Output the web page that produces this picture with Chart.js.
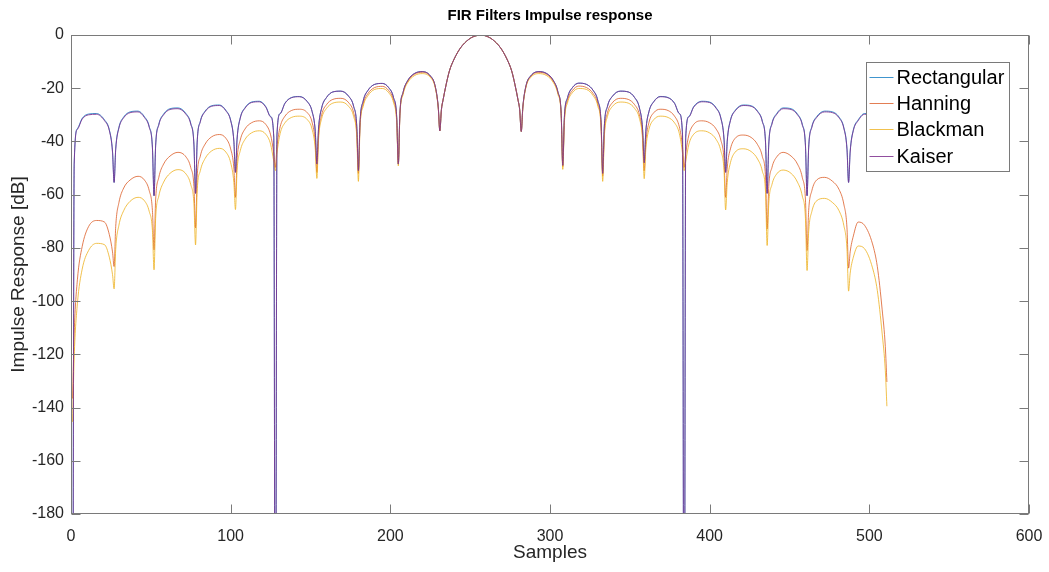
<!DOCTYPE html>
<html>
<head>
<meta charset="utf-8">
<title>FIR Filters Impulse response</title>
<script src="https://cdn.jsdelivr.net/npm/chart.js@4.4.1/dist/chart.umd.min.js"></script>
<style>
    html, body { margin: 0; padding: 0; background: #ffffff; }
    #wrap { width: 1049px; height: 572px; }
</style>
</head>
<body>
<div id="wrap"><canvas id="firChart" width="1049" height="572"></canvas></div>
<script>
// sample index (x) shared by all four filters
var samples = [
    1, 2, 4, 7, 11, 16, 21, 24, 26,
    27, 28, 30, 33, 37, 42, 46, 49, 51,
    52, 53, 55, 58, 62, 67, 72, 75, 77,
    78, 79, 81, 84, 88, 93, 97, 100, 102,
    103, 104, 106, 109, 113, 118, 122, 125, 127,
    128, 129, 131, 134, 138, 143, 148, 151, 153,
    154, 155, 157, 160, 164, 169, 174, 177, 179,
    180, 181, 183, 186, 190, 195, 199, 202, 204,
    205, 206, 208, 211, 215, 220, 225, 228, 230,
    231, 232, 233, 235, 237, 240, 244, 249, 253, 257, 260, 264, 269, 273, 276, 278, 280, 281,
    282, 283, 285, 288, 293, 298, 302, 305, 307,
    308, 309, 311, 314, 318, 323, 327, 330, 332,
    333, 334, 336, 339, 344, 349, 353, 356, 358,
    359, 360, 362, 365, 369, 374, 378, 381, 383,
    384, 385, 387, 390, 395, 400, 404, 407, 409,
    410, 411, 413, 416, 421, 426, 430, 433, 435,
    436, 437, 439, 442, 446, 451, 455, 458, 460,
    461, 462, 464, 467, 472, 477, 481, 484, 486,
    487, 488, 490, 493, 497, 502, 505, 508, 510, 511
];

var rectangular = [
    -300, -48.2, -35.2, -31.3, -29.7, -29.5, -31.9, -35.6, -43.7,
    -55.4, -42.7, -34.7, -30.8, -28.9, -28.6, -30.7, -34.4, -42.2,
    -60.4, -41.5, -33.5, -29.7, -27.7, -27.4, -29.5, -33.2, -41.1,
    -59.5, -40.4, -32.4, -28.6, -26.6, -26.3, -28.3, -32, -39.8,
    -51.6, -39.1, -31.1, -27.3, -25.2, -24.9, -26.9, -30.6, -38.3,
    -300, -37.5, -29.5, -25.6, -23.5, -23.1, -25, -28.7, -36.3,
    -48.5, -35.5, -27.4, -23.5, -21.4, -21.1, -23.1, -26.8, -34.5,
    -51, -33, -24.8, -20.8, -18.6, -18.2, -19.8, -23.5, -31,
    -48.5, -29.5, -21.5, -17, -14.5, -13.75, -15.3, -19, -27,
    -36, -28, -24.5, -18.5, -13.5, -9, -4.8, -1.7, -0.4, 0, -0.4, -1.7, -4.8, -9, -13.5, -18.5, -24.5, -28,
    -36.25, -27, -19, -15.3, -13.75, -14.5, -17, -21.5, -29.5,
    -49, -31, -23.5, -19.8, -18.1, -18.6, -20.8, -24.8, -33,
    -52, -34.5, -26.8, -23.1, -21.1, -21.4, -23.5, -27.4, -35.5,
    -48, -36.3, -28.7, -25, -23.1, -23.5, -25.6, -29.5, -37.5,
    -300, -38.3, -30.6, -26.9, -24.9, -25.2, -27.3, -31.1, -39.1,
    -51.6, -39.8, -32, -28.3, -26.3, -26.6, -28.6, -32.4, -40.4,
    -59.5, -41.1, -33.2, -29.5, -27.4, -27.7, -29.7, -33.5, -41.5,
    -60.4, -42.2, -34.4, -30.7, -28.6, -28.9, -30.8, -34.7, -42.7,
    -55.4, -43.7, -35.6, -31.9, -29.5, -29.7, -31.3, -35.2, -48.2, null
];

var hanning = [
    -136.6, -112, -92, -79.5, -72, -69.7, -70.3, -75, -81.5,
    -87, -72, -63, -57.5, -54.5, -53.1, -54.5, -58.5, -66,
    -80.75, -62, -53.5, -48.5, -45.5, -44.1, -45.8, -49.8, -57,
    -72.5, -53.5, -45.5, -41, -38.3, -37.4, -38.8, -42.8, -50,
    -61, -47, -39.5, -35.3, -33, -32.25, -33.6, -37.5, -44.5,
    -49.75, -42, -34.5, -30.5, -28.4, -27.9, -29.2, -32.8, -40.5,
    -51.6, -38, -30, -26.2, -24.2, -23.8, -25.5, -29.2, -37,
    -52, -34.2, -26, -22, -19.8, -19.3, -20.9, -24.6, -32,
    -48.5, -29.8, -21.8, -17.3, -14.8, -14, -15.5, -19.2, -27.2,
    -36, -28, -24.5, -18.5, -13.5, -9, -4.8, -1.7, -0.4, 0, -0.4, -1.7, -4.8, -9, -13.5, -18.5, -24.5, -28,
    -36.25, -27.2, -19.2, -15.5, -14, -14.8, -17.3, -21.8, -29.8,
    -49.5, -32, -24.6, -20.9, -19.2, -19.8, -22, -26, -34.2,
    -53, -37, -29.2, -25.5, -23.8, -24.2, -26.2, -30, -38,
    -51, -40.5, -32.8, -29.2, -27.9, -28.4, -30.5, -34.5, -42,
    -49.75, -44.5, -37.5, -33.6, -32.25, -33, -35.3, -39.5, -47,
    -61, -50, -42.8, -38.8, -37.6, -38.5, -41.2, -45.7, -53.7,
    -72.9, -57, -49.8, -45.8, -44.1, -45.5, -48.5, -53.5, -62,
    -81, -66, -58.5, -54.5, -53.5, -55, -58, -63.5, -72.5,
    -87.6, -81.5, -75.5, -70.3, -71.5, -78.5, -87, -103, -117, -130.4
];

var blackman = [
    -145.4, -121, -101, -88, -81, -78.3, -78.8, -83.5, -90,
    -95.4, -80.5, -71.5, -66, -62.5, -61, -62.3, -66.3, -73.5,
    -88.25, -69, -60.5, -55.3, -52, -50.6, -52.2, -56.2, -63.5,
    -78.9, -59, -51, -46.4, -43.6, -42.6, -44, -48, -55.5,
    -65.6, -51, -43.5, -39.2, -36.8, -36, -37.3, -41, -47.5,
    -51, -44.5, -37, -33, -31, -30.5, -31.8, -35.4, -43,
    -53.9, -39.5, -31.4, -27.6, -25.6, -25.2, -26.9, -30.6, -38.5,
    -55, -35, -26.8, -22.8, -20.5, -20.1, -21.7, -25.4, -33,
    -49.2, -30.3, -22.3, -17.8, -15.3, -14.5, -15.9, -19.5, -27.4,
    -36, -28, -24.5, -18.5, -13.5, -9, -4.8, -1.7, -0.4, 0, -0.4, -1.7, -4.8, -9, -13.5, -18.5, -24.5, -28,
    -36.25, -27.4, -19.5, -15.9, -14.5, -15.3, -17.8, -22.3, -30.3,
    -50.5, -33, -25.4, -21.7, -20.1, -20.5, -22.8, -26.8, -35,
    -55, -38.5, -30.6, -26.9, -25.2, -25.6, -27.6, -31.4, -39.5,
    -54, -43, -35.4, -31.8, -30.5, -31, -33, -37, -44.5,
    -51, -47.5, -41, -37.3, -36, -36.8, -39.2, -43.5, -51,
    -65.75, -55.5, -48, -44, -42.75, -43.8, -46.6, -51.2, -59.2,
    -79.1, -63.5, -56.2, -52.2, -50.75, -52, -55.3, -60.5, -69,
    -88.5, -74, -66.3, -62.3, -61.4, -63, -66, -71.5, -80.5,
    -96.25, -89.5, -83.5, -79.3, -80.3, -87.5, -96, -112, -126, -139.5
];

var kaiser = [
    -300, -48.5, -35.5, -31.6, -30, -29.8, -32.2, -35.9, -44,
    -55.4, -43, -35, -31.1, -29.2, -28.9, -31, -34.7, -42.5,
    -60.4, -41.8, -33.8, -30, -28, -27.7, -29.8, -33.5, -41.4,
    -59.5, -40.6, -32.6, -28.8, -26.8, -26.5, -28.5, -32.2, -40,
    -51.6, -39.3, -31.3, -27.5, -25.4, -25.1, -27.1, -30.8, -38.5,
    -300, -37.6, -29.6, -25.7, -23.6, -23.2, -25.1, -28.8, -36.4,
    -48.5, -35.5, -27.4, -23.5, -21.4, -21.1, -23.1, -26.8, -34.5,
    -51, -33, -24.8, -20.8, -18.6, -18.2, -19.8, -23.5, -31,
    -48.5, -29.5, -21.5, -17, -14.5, -13.75, -15.3, -19, -27,
    -36, -28, -24.5, -18.5, -13.5, -9, -4.8, -1.7, -0.4, 0, -0.4, -1.7, -4.8, -9, -13.5, -18.5, -24.5, -28,
    -36.25, -27, -19, -15.3, -13.75, -14.5, -17, -21.5, -29.5,
    -49, -31, -23.5, -19.8, -18.1, -18.6, -20.8, -24.8, -33,
    -52, -34.5, -26.8, -23.1, -21.1, -21.4, -23.5, -27.4, -35.5,
    -48, -36.4, -28.8, -25.1, -23.2, -23.6, -25.7, -29.6, -37.6,
    -300, -38.5, -30.8, -27.1, -25.1, -25.4, -27.5, -31.3, -39.3,
    -51.6, -40, -32.2, -28.5, -26.5, -26.8, -28.8, -32.6, -40.6,
    -59.5, -41.4, -33.5, -29.8, -27.7, -28, -30, -33.8, -41.8,
    -60.4, -42.5, -34.7, -31, -28.9, -29.2, -31.1, -35, -43,
    -55.4, -44, -35.9, -32.2, -29.8, -30, -31.6, -35.5, -48.5, null
];

var seriesNames = ["Rectangular", "Hanning", "Blackman", "Kaiser"];
var seriesColors = ["rgba(0, 114, 189, 0.75)", "rgba(217, 83, 25, 0.75)", "rgba(237, 177, 32, 0.8)", "rgba(126, 47, 142, 0.85)"];
var xTickValues = [0, 100, 200, 300, 400, 500, 600];
var yTickValues = [-180, -160, -140, -120, -100, -80, -60, -40, -20, 0];
var chartTitle = "FIR Filters Impulse response";

function toPoints(values) {
    return samples.map(function (s, i) {
        return { x: s, y: values[i] };
    });
}

// matlab style box with ticks pointing inwards on all four sides, plus the title
var framePlugin = {
    id: "frame",
    afterDatasetsDraw: function (chart) {
        var ctx = chart.ctx;
        var a = chart.chartArea;
        var xs = chart.scales.x;
        var ys = chart.scales.y;
        var L = Math.round(a.left) + 0.5, R = Math.round(a.right) - 0.5;
        var T = Math.round(a.top) + 0.5, B = Math.round(a.bottom) - 0.5;
        ctx.save();
        ctx.strokeStyle = "#7a7a7a";
        ctx.lineWidth = 1;
        ctx.strokeRect(L, T, R - L, B - T);
        ctx.beginPath();
        xTickValues.forEach(function (v) {
            var px = Math.round(xs.getPixelForValue(v)) + 0.5;
            ctx.moveTo(px, B); ctx.lineTo(px, B - 9);
            ctx.moveTo(px, T); ctx.lineTo(px, T + 9);
        });
        yTickValues.forEach(function (v) {
            var py = Math.round(ys.getPixelForValue(v)) + 0.5;
            ctx.moveTo(L, py); ctx.lineTo(L + 9, py);
            ctx.moveTo(R, py); ctx.lineTo(R - 9, py);
        });
        ctx.stroke();

        // title centred over the plot box
        ctx.fillStyle = "#000000";
        ctx.font = "bold 15px 'Liberation Sans', Arial, sans-serif";
        ctx.textAlign = "center";
        ctx.textBaseline = "middle";
        ctx.fillText(chartTitle, (a.left + a.right) / 2, 16);
        ctx.restore();
    }
};

// legend box inside the plot, top right
var legendPlugin = {
    id: "boxLegend",
    afterDraw: function (chart) {
        var ctx = chart.ctx;
        var a = chart.chartArea;
        var w = 143, h = 109;
        var x0 = Math.round(a.right - 20 - w) + 0.5;
        var y0 = Math.round(a.top + 27) + 0.5;
        ctx.save();
        ctx.fillStyle = "#ffffff";
        ctx.fillRect(x0, y0, w, h);
        ctx.strokeStyle = "#7a7a7a";
        ctx.lineWidth = 1;
        ctx.strokeRect(x0, y0, w, h);
        ctx.font = "20px 'Liberation Sans', Arial, sans-serif";
        ctx.textBaseline = "middle";
        ctx.textAlign = "left";
        chart.data.datasets.forEach(function (ds, i) {
            var cy = Math.round(y0 + 14 + i * 26.4) + 0.5;
            ctx.strokeStyle = ds.borderColor;
            ctx.beginPath();
            ctx.moveTo(x0 + 3, cy);
            ctx.lineTo(x0 + 27, cy);
            ctx.stroke();
            ctx.fillStyle = "#000000";
            ctx.fillText(ds.label, x0 + 30, cy + 1);
        });
        ctx.restore();
    }
};

Chart.defaults.font.family = "'Liberation Sans', Arial, Helvetica, sans-serif";

var ctx = document.getElementById("firChart").getContext("2d");
var chart = new Chart(ctx, {
    type: "line",
    data: {
        datasets: [
            { label: seriesNames[0], data: toPoints(rectangular), borderColor: seriesColors[0], order: 3 },
            { label: seriesNames[1], data: toPoints(hanning), borderColor: seriesColors[1], order: 2 },
            { label: seriesNames[2], data: toPoints(blackman), borderColor: seriesColors[2], order: 1 },
            { label: seriesNames[3], data: toPoints(kaiser), borderColor: seriesColors[3], order: 0 }
        ]
    },
    options: {
        responsive: false,
        animation: false,
        devicePixelRatio: 1,
        layout: { padding: { top: 35, right: 20, bottom: 0, left: 0 } },
        elements: {
            line: { borderWidth: 1, fill: false, cubicInterpolationMode: "monotone" },
            point: { radius: 0, hoverRadius: 0 }
        },
        plugins: {
            legend: { display: false },
            tooltip: { enabled: false },
            title: { display: false }
        },
        scales: {
            x: {
                type: "linear",
                min: 0,
                max: 600,
                afterBuildTicks: function (scale) {
                    scale.ticks = xTickValues.map(function (v) { return { value: v }; });
                },
                afterFit: function (scale) {
                    scale.height = 58;
                    scale.paddingLeft = 0;
                    scale.paddingRight = 0;
                },
                grid: { display: false, drawTicks: false },
                border: { display: false },
                ticks: { color: "#262626", font: { size: 16 }, padding: 13, maxRotation: 0 },
                title: {
                    display: true,
                    text: "Samples",
                    color: "#262626",
                    font: { size: 19 },
                    padding: { top: 0, bottom: 8 }
                }
            },
            y: {
                type: "linear",
                min: -180,
                max: 0,
                afterBuildTicks: function (scale) {
                    scale.ticks = yTickValues.map(function (v) { return { value: v }; });
                },
                afterFit: function (scale) {
                    scale.width = 71;
                    scale.paddingTop = 0;
                    scale.paddingBottom = 0;
                },
                grid: { display: false, drawTicks: false },
                border: { display: false },
                ticks: { color: "#262626", font: { size: 16 }, padding: 7 },
                title: {
                    display: true,
                    text: "Impulse Response [dB]",
                    color: "#262626",
                    font: { size: 19 },
                    padding: { top: 7, bottom: 0 }
                }
            }
        }
    },
    plugins: [framePlugin, legendPlugin]
});
</script>
</body>
</html>
